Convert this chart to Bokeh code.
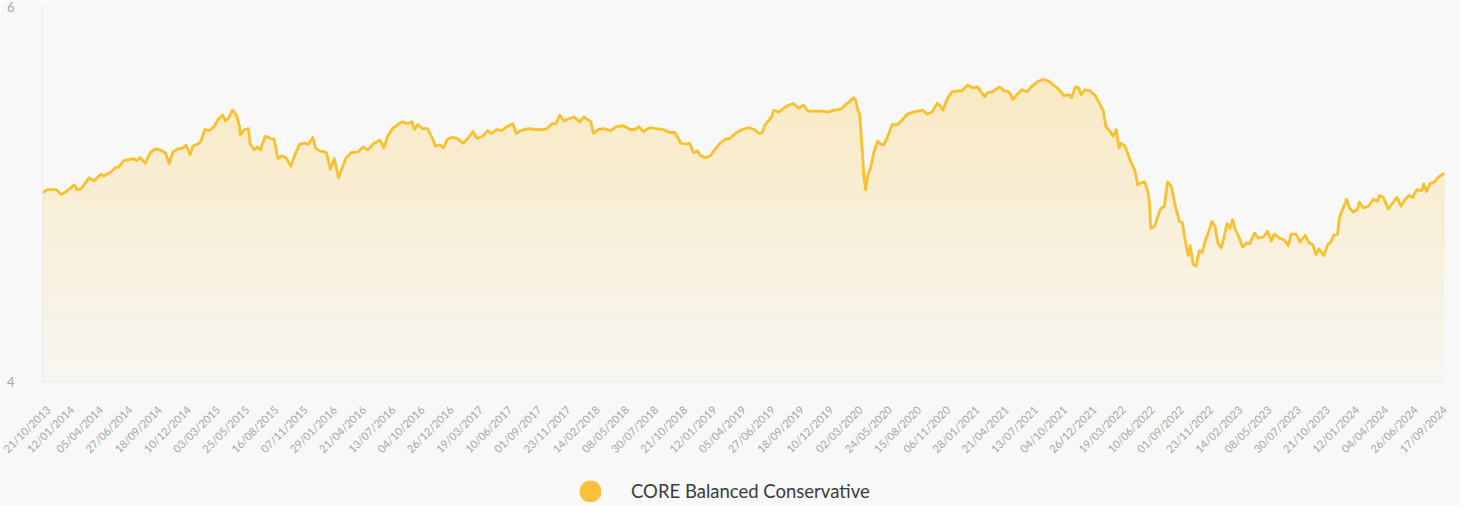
from datetime import datetime, timedelta
from math import pi
import numpy as np
from bokeh.plotting import figure
from bokeh.layouts import column
from bokeh.models import Range1d, FixedTicker, DatetimeTickFormatter, Legend, LegendItem
from bokeh.embed import file_html
from bokeh.resources import INLINE

# ---------------- data ----------------
series_name = "CORE Balanced Conservative"

tick_labels = [
    "21/10/2013", "12/01/2014", "05/04/2014", "27/06/2014", "18/09/2014", "10/12/2014",
    "03/03/2015", "25/05/2015", "16/08/2015", "07/11/2015", "29/01/2016", "21/04/2016",
    "13/07/2016", "04/10/2016", "26/12/2016", "19/03/2017", "10/06/2017", "01/09/2017",
    "23/11/2017", "14/02/2018", "08/05/2018", "30/07/2018", "21/10/2018", "12/01/2019",
    "05/04/2019", "27/06/2019", "18/09/2019", "10/12/2019", "02/03/2020", "24/05/2020",
    "15/08/2020", "06/11/2020", "28/01/2021", "21/04/2021", "13/07/2021", "04/10/2021",
    "26/12/2021", "19/03/2022", "10/06/2022", "01/09/2022", "23/11/2022", "14/02/2023",
    "08/05/2023", "30/07/2023", "21/10/2023", "12/01/2024", "04/04/2024", "26/06/2024",
    "17/09/2024",
]

y_ticks = [4, 6]

# days since 21/10/2013
day_offsets = [
    0, 14, 39, 53, 67, 90, 98, 110, 132, 146, 166, 174, 194, 208, 216, 231, 245, 259, 267, 278,
    292, 306, 321, 335, 349, 360, 371, 385, 399, 408, 419, 427, 441, 450, 461, 475, 489, 498, 512, 520,
    531, 540, 551, 560, 562, 574, 585, 590, 602, 610, 619, 633, 647, 658, 669, 680, 692, 706, 714, 731,
    745, 756, 768, 776, 787, 801,
    807, 818, 829, 841, 852, 863, 877, 897, 911, 925, 942, 959, 970, 981, 995, 1009, 1023, 1037, 1049, 1057,
    1066, 1080, 1094, 1108, 1116, 1130, 1139, 1150, 1164, 1178, 1195, 1209, 1223, 1234, 1251, 1265, 1276, 1291, 1305, 1319,
    1336, 1347, 1355, 1369, 1383, 1403, 1420, 1434, 1448, 1459, 1470, 1482, 1496, 1510, 1527, 1538, 1546, 1558, 1566, 1580,
    1594,
    1614, 1631, 1650, 1670, 1684, 1695, 1707, 1726, 1743, 1763, 1783, 1797, 1808, 1813, 1828, 1839, 1850, 1861, 1870, 1884,
    1898, 1912, 1926, 1940, 1954, 1968, 1988, 2007, 2022, 2036, 2044, 2052, 2064, 2072, 2078, 2092, 2106, 2120, 2134, 2148,
    2162, 2176, 2193, 2213, 2232, 2249, 2269, 2283, 2294, 2305, 2311, 2317, 2322, 2328, 2334, 2339, 2345, 2353, 2362, 2373,
    2381, 2390, 2398,
    2404, 2415, 2429, 2443, 2457, 2474, 2488, 2502, 2514, 2528, 2542, 2550, 2559, 2570, 2584, 2598, 2612, 2629, 2643, 2657,
    2677, 2685, 2699, 2719, 2733, 2747, 2758, 2769, 2783, 2798, 2812, 2826, 2843, 2859, 2873, 2887, 2902, 2916, 2924, 2935,
    2944, 2952, 2963, 2977, 2992, 3003, 3014, 3022, 3034, 3042, 3051, 3059, 3064, 3076, 3084, 3093, 3104, 3112, 3121, 3132,
    3141, 3146, 3149, 3160, 3169, 3177, 3188, 3197, 3208,
    3219, 3231, 3239, 3247, 3256, 3261, 3270, 3278, 3287, 3295, 3304, 3315, 3323, 3332, 3340, 3349, 3357, 3366, 3374, 3382,
    3388, 3399, 3410, 3422, 3430, 3444, 3455, 3469, 3481, 3492, 3500, 3515, 3529, 3540, 3548, 3562, 3574, 3588, 3599, 3610,
    3619, 3627, 3641, 3652, 3661, 3669, 3680, 3686, 3697, 3706, 3714, 3725, 3737, 3742, 3754, 3768, 3782, 3793, 3799, 3810,
    3824, 3838, 3849, 3860, 3872, 3883, 3894, 3905, 3919, 3925, 3933, 3942, 3956, 3964, 3978, 3984,
]

nav_values = [
    5.006, 5.023, 5.023, 4.997, 5.013, 5.049, 5.023, 5.028, 5.085, 5.070, 5.106, 5.096, 5.116, 5.142, 5.142, 5.178, 5.183, 5.189, 5.178, 5.194,
    5.163, 5.220, 5.240, 5.235, 5.220, 5.163, 5.225, 5.240, 5.245, 5.261, 5.209, 5.256, 5.266, 5.282, 5.344, 5.338, 5.364, 5.395, 5.421, 5.390,
    5.411, 5.447, 5.421, 5.359, 5.313, 5.344, 5.349, 5.266, 5.235, 5.251, 5.235, 5.308, 5.297, 5.292, 5.189, 5.204, 5.194, 5.147, 5.194, 5.266,
    5.271, 5.266, 5.302, 5.245, 5.230, 5.225,
    5.220, 5.132, 5.189, 5.085, 5.142, 5.194, 5.220, 5.225, 5.251, 5.235, 5.271, 5.287, 5.245, 5.308, 5.349, 5.370, 5.385, 5.375, 5.385, 5.344,
    5.370, 5.349, 5.349, 5.297, 5.256, 5.261, 5.245, 5.292, 5.302, 5.297, 5.271, 5.297, 5.333, 5.297, 5.308, 5.338, 5.323, 5.344, 5.338, 5.359,
    5.375, 5.323, 5.333, 5.344, 5.349, 5.344, 5.344, 5.349, 5.375, 5.375, 5.421, 5.390, 5.401, 5.411, 5.385, 5.411, 5.401, 5.385, 5.323, 5.344,
    5.349,
    5.338, 5.359, 5.364, 5.344, 5.344, 5.359, 5.333, 5.354, 5.349, 5.344, 5.328, 5.328, 5.292, 5.271, 5.266, 5.271, 5.220, 5.230, 5.204, 5.194,
    5.204, 5.240, 5.271, 5.292, 5.297, 5.323, 5.344, 5.354, 5.344, 5.323, 5.323, 5.364, 5.395, 5.411, 5.447, 5.437, 5.457, 5.473, 5.483, 5.457,
    5.473, 5.442, 5.442, 5.442, 5.437, 5.447, 5.452, 5.478, 5.494, 5.514, 5.499, 5.447, 5.426, 5.271, 5.101, 5.023, 5.101, 5.137, 5.220, 5.282,
    5.266, 5.261, 5.292,
    5.318, 5.370, 5.370, 5.395, 5.426, 5.437, 5.442, 5.447, 5.426, 5.437, 5.483, 5.473, 5.447, 5.504, 5.545, 5.550, 5.550, 5.581, 5.566, 5.571,
    5.519, 5.540, 5.545, 5.571, 5.550, 5.545, 5.504, 5.530, 5.556, 5.545, 5.576, 5.597, 5.612, 5.602, 5.581, 5.561, 5.525, 5.530, 5.514, 5.571,
    5.566, 5.530, 5.556, 5.550, 5.525, 5.483, 5.447, 5.359, 5.333, 5.308, 5.344, 5.245, 5.271, 5.256, 5.214, 5.168, 5.127, 5.049, 5.059, 5.065,
    5.013, 4.946, 4.817, 4.827, 4.879, 4.920, 4.935, 5.065, 5.039,
    4.935, 4.853, 4.848, 4.755, 4.672, 4.724, 4.625, 4.615, 4.698, 4.687, 4.749, 4.806, 4.853, 4.827, 4.739, 4.713, 4.765, 4.842, 4.817, 4.863,
    4.817, 4.775, 4.718, 4.739, 4.734, 4.791, 4.765, 4.770, 4.801, 4.749, 4.786, 4.765, 4.755, 4.724, 4.786, 4.786, 4.744, 4.780, 4.739, 4.729,
    4.677, 4.708, 4.672, 4.729, 4.744, 4.780, 4.786, 4.879, 4.930, 4.972, 4.925, 4.904, 4.920, 4.956, 4.925, 4.935, 4.972, 4.961, 4.992, 4.982,
    4.920, 4.956, 4.982, 4.935, 4.972, 4.992, 4.982, 5.023, 5.018, 5.054, 5.013, 5.054, 5.065, 5.085, 5.106, 5.111,
]

# ---------------- derived ----------------
tick_dates = [datetime.strptime(s, "%d/%m/%Y") for s in tick_labels]
start = tick_dates[0]
dates = np.array([start + timedelta(days=d) for d in day_offsets], dtype="datetime64[ms]")
vals = np.array(nav_values)

def to_ms(d):
    return (d - datetime(1970, 1, 1)).total_seconds() * 1000.0

LINE_COLOR = "#FBC02D"
KEY_COLOR = "#FCC13C"
BG = "#F8F8F8"
GRID = "#EBEBEB"
FONT = "Lato"

def hex2rgb(h):
    h = h.lstrip("#")
    return np.array([int(h[i:i + 2], 16) for i in (0, 2, 4)], dtype=float)

def blend(alpha):
    c = hex2rgb(LINE_COLOR) * alpha + hex2rgb(BG) * (1 - alpha)
    return "#%02X%02X%02X" % tuple(int(round(v)) for v in c)

W = 1460
p = figure(
    width=W, height=476,
    x_axis_type="datetime",
    x_range=Range1d(tick_dates[0], tick_dates[-1]),
    y_range=Range1d(y_ticks[0], y_ticks[-1]),
    output_backend="svg", toolbar_location=None,
    min_border_left=42, min_border_right=16, min_border_top=6, min_border_bottom=95,
)
p.background_fill_color = BG
p.border_fill_color = BG
p.outline_line_color = None
p.xgrid.visible = False
p.ygrid.ticker = FixedTicker(ticks=y_ticks)
p.ygrid.grid_line_color = GRID
p.ygrid.grid_line_width = 1

# vertical gradient under the line: opaque bands, each one painted over the previous
n_bands = 64
y0, y1 = y_ticks[0], y_ticks[-1]
alpha_bottom, alpha_top = 0.03, 0.32
for i in range(n_bands):
    base = y0 + (y1 - y0) * i / n_bands
    frac = (i + 0.5) / n_bands
    col = blend(alpha_bottom + (alpha_top - alpha_bottom) * frac)
    p.varea(x=dates, y1=np.full(len(vals), base), y2=np.maximum(vals, base),
            fill_color=col, fill_alpha=1.0)

p.line(x=dates, y=vals, line_color=LINE_COLOR, line_width=2.8, line_join="round")

# axes
xa = p.xaxis[0]
xa.ticker = FixedTicker(ticks=[to_ms(d) for d in tick_dates])
fmt = "%d/%m/%Y"
xa.formatter = DatetimeTickFormatter(milliseconds=fmt, seconds=fmt, minsec=fmt, minutes=fmt,
                                     hourmin=fmt, hours=fmt, days=fmt, months=fmt, years=fmt)
xa.major_label_orientation = pi / 4
xa.major_label_standoff = 20
xa.major_tick_line_color = None
xa.minor_tick_line_color = None
xa.axis_line_color = GRID
xa.major_label_text_font = FONT
xa.major_label_text_font_size = "11px"
xa.major_label_text_color = "#A6A6A6"

ya = p.yaxis[0]
ya.ticker = FixedTicker(ticks=y_ticks)
ya.major_tick_line_color = None
ya.minor_tick_line_color = None
ya.axis_line_color = GRID
ya.major_label_standoff = 22
ya.major_label_text_font = FONT
ya.major_label_text_font_size = "13px"
ya.major_label_text_color = "#A6A6A6"

# legend strip underneath
pl = figure(width=W, height=30, output_backend="svg", toolbar_location=None,
            x_range=Range1d(0, 1), y_range=Range1d(0, 1),
            x_axis_location=None, y_axis_location=None, min_border=0)
pl.background_fill_color = BG
pl.border_fill_color = BG
pl.outline_line_color = None
pl.grid.visible = False
# legend key: one point kept outside the visible range, only its legend swatch shows.
# The swatch marker is drawn at 0.4 x the glyph box, the thick outline brings it to a ~22px disc.
r_leg = pl.scatter(x=[-10], y=[-10], marker="circle", size=22,
                   fill_color=KEY_COLOR, line_color=KEY_COLOR, line_width=13.2)
legend = Legend(
    items=[LegendItem(label=series_name, renderers=[r_leg])],
    location=(537, 4), orientation="horizontal",
    background_fill_alpha=0, border_line_color=None, margin=0, padding=0,
    glyph_width=22, glyph_height=22, label_standoff=30, label_height=22,
    label_text_font=FONT, label_text_font_size="18.5px", label_text_color="#3C3C3C",
)
pl.add_layout(legend)

layout = column(p, pl, spacing=0)
open("out.html", "w").write(file_html(layout, INLINE))
